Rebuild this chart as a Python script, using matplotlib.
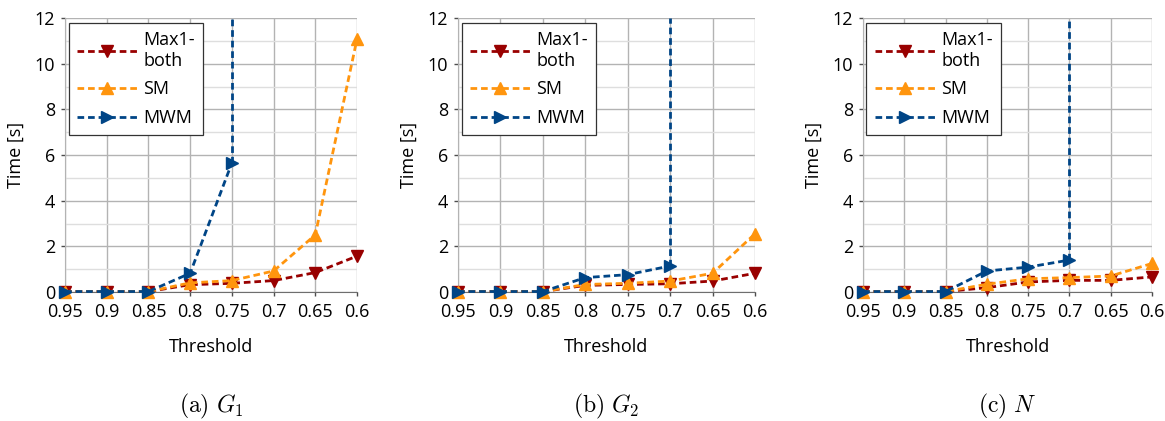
import numpy as np
import matplotlib
matplotlib.use("Agg")
import matplotlib.pyplot as plt
from matplotlib.ticker import MultipleLocator

plt.rcParams['font.family'] = ['Open Sans', 'DejaVu Sans']
plt.rcParams['mathtext.fontset'] = 'cm'

thresholds = ["0.95", "0.9", "0.85", "0.8", "0.75", "0.7", "0.65", "0.6"]

# Running times in seconds; None marks runs that did not finish (timeout)
max1_g1 = [0.02, 0.02, 0.02, 0.32, 0.38, 0.50, 0.85, 1.57]
sm_g1 = [0.02, 0.02, 0.02, 0.40, 0.50, 0.92, 2.50, 11.08]
mwm_g1 = [0.02, 0.02, 0.02, 0.82, 5.65, None, None, None]

max1_g2 = [0.02, 0.02, 0.02, 0.29, 0.33, 0.36, 0.48, 0.82]
sm_g2 = [0.02, 0.02, 0.02, 0.33, 0.38, 0.48, 0.82, 2.55]
mwm_g2 = [0.02, 0.02, 0.02, 0.63, 0.76, 1.14, None, None]

max1_n = [0.02, 0.02, 0.02, 0.19, 0.44, 0.51, 0.51, 0.66]
sm_n = [0.02, 0.02, 0.02, 0.34, 0.58, 0.63, 0.70, 1.25]
mwm_n = [0.02, 0.02, 0.02, 0.92, 1.09, 1.40, None, None]

captions = [r"$\mathrm{(a)}\ G_1$", r"$\mathrm{(b)}\ G_2$", r"$\mathrm{(c)}\ N$"]
panels = [(max1_g1, sm_g1, mwm_g1), (max1_g2, sm_g2, mwm_g2), (max1_n, sm_n, mwm_n)]

C_MAX1 = "#990000"
C_SM = "#ff950e"
C_MWM = "#004586"
YMAX = 12
DASH = (0, (2.4, 1.4))

fig = plt.figure(figsize=(11.65, 4.21), dpi=100)
W, H = 1165, 421
boxes = [(65, 357), (458, 755), (863, 1152)]
top_px, bot_px = 18, 292

x = np.arange(len(thresholds))


def series(vals):
    xs = [xi for xi, v in zip(x, vals) if v is not None]
    ys = [v for v in vals if v is not None]
    return np.array(xs), np.array(ys)


for (l, r), (max1, sm, mwm), cap in zip(boxes, panels, captions):
    ax = fig.add_axes([l / W, 1 - bot_px / H, (r - l) / W, (bot_px - top_px) / H])
    ax.set_xlim(x[0], x[-1])
    ax.set_ylim(0, YMAX)
    ax.set_xticks(x)
    ax.set_xticklabels(thresholds)
    ax.yaxis.set_major_locator(MultipleLocator(2))
    ax.yaxis.set_minor_locator(MultipleLocator(1))
    ax.grid(True, which='major', color='#b3b3b3', lw=1.0)
    ax.grid(True, which='minor', axis='y', color='#dedede', lw=1.0)
    ax.set_axisbelow(True)
    for s in ('top', 'right'):
        ax.spines[s].set_visible(False)
    ax.spines['left'].set_color('#b3b3b3')
    ax.spines['bottom'].set_color('#6e6e6e')
    ax.tick_params(axis='both', which='major', labelsize=13, length=3, width=1,
                   color='#4d4d4d')
    ax.tick_params(axis='x', which='major', pad=5)
    ax.tick_params(axis='y', which='major', pad=4)
    ax.tick_params(axis='y', which='minor', length=0)

    style = dict(ls=DASH, lw=2.0, ms=8, clip_on=False, zorder=3)
    xs, ys = series(max1)
    ax.plot(xs, ys, color=C_MAX1, marker='v', label="Max1-\nboth", **style)
    xs, ys = series(sm)
    ax.plot(xs, ys, color=C_SM, marker='^', label="SM", **style)
    xs, ys = series(mwm)
    ax.plot(xs, ys, color=C_MWM, marker='>', label="MWM", **style)
    # timeout: the curve shoots off the top of the axis
    ax.plot([xs[-1], xs[-1]], [ys[-1], YMAX], color=C_MWM, ls=DASH, lw=2.0, zorder=3)

    leg = ax.legend(loc='upper left', bbox_to_anchor=(0.012, 0.983), fontsize=13,
                    fancybox=False, edgecolor='#333333', framealpha=1,
                    handlelength=3.4, handletextpad=0.3, labelspacing=0.6,
                    borderpad=0.45, borderaxespad=0)
    leg.get_frame().set_linewidth(0.9)

    ax.set_ylabel("Time [s]", fontsize=13, labelpad=7)
    ax.set_xlabel("Threshold", fontsize=13, labelpad=12)

    cx = (l + r) / 2 / W
    fig.text(cx, 1 - 406 / H, cap, ha='center', va='center', fontsize=17)

fig.savefig("out.png", dpi=100)
